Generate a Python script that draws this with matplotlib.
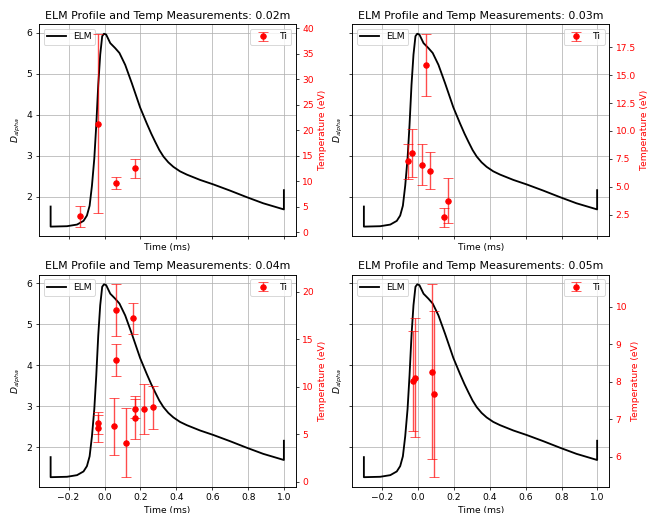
import matplotlib
matplotlib.use("Agg")
import matplotlib.pyplot as plt
from matplotlib.ticker import MultipleLocator

# ELM D-alpha profile (same for every panel)
elm_time = [-0.3, -0.3, -0.209, -0.153, -0.117, -0.098, -0.083, -0.07, -0.057, -0.046,
            -0.035, -0.024, -0.013, -0.003, 0.009, 0.032, 0.059, 0.083, 0.115, 0.152,
            0.198, 0.235, 0.26, 0.282, 0.305, 0.328, 0.355, 0.383, 0.42, 0.458,
            0.532, 0.606, 0.698, 0.791, 0.883, 0.998, 0.998]
elm_dalpha = [1.76, 1.27, 1.28, 1.32, 1.41, 1.54, 1.78, 2.27, 2.93, 3.75,
              4.73, 5.47, 5.92, 5.98, 5.96, 5.75, 5.63, 5.51, 5.22, 4.77,
              4.18, 3.79, 3.54, 3.34, 3.14, 2.98, 2.84, 2.73, 2.62, 2.54,
              2.41, 2.30, 2.15, 1.99, 1.84, 1.69, 2.16]

# Ti measurements per radial position
positions = ["0.02m", "0.03m", "0.04m", "0.05m"]
ti_time = [
    [-0.139, -0.037, 0.065, 0.167],
    [-0.057, -0.035, 0.044, 0.026, 0.067, 0.146, 0.169],
    [-0.037, -0.037, 0.052, 0.065, 0.065, 0.117, 0.156, 0.167, 0.167, 0.217, 0.267],
    [-0.024, -0.013, 0.078, 0.089],
]
ti_value = [
    [3.1, 21.3, 9.7, 12.5],
    [7.27, 8.02, 15.91, 6.97, 6.43, 2.26, 3.76],
    [6.17, 5.64, 5.85, 18.05, 12.84, 4.11, 17.2, 7.7, 6.74, 7.62, 7.84],
    [8.02, 8.11, 8.27, 7.67],
]
ti_err = [
    [2.0, 17.6, 1.2, 1.8],
    [1.6, 2.15, 2.8, 1.85, 1.65, 0.84, 2.0],
    [1.13, 1.42, 3.0, 2.75, 1.67, 3.65, 1.6, 1.0, 2.26, 2.65, 2.27],
    [1.34, 1.58, 2.33, 2.21],
]
ti_tick_step = [5, 2.5, 5, 1]

fig, axes = plt.subplots(2, 2, figsize=(10, 7.773), dpi=66, sharex=True, sharey=True)
fig.subplots_adjust(left=0.059, right=0.923, top=0.953, bottom=0.051,
                    wspace=0.219, hspace=0.181)

for i, axis in enumerate(axes.flat):
    axis.plot(elm_time, elm_dalpha, color="black", linewidth=2, label="ELM")
    axis.set_xlabel("Time (ms)")
    axis.set_ylabel("$D_{alpha}$")
    axis.grid(True)
    axis.legend(loc="upper left")
    axis.set_title("ELM Profile and Temp Measurements: " + positions[i])

    twin = axis.twinx()
    twin.errorbar(ti_time[i], ti_value[i], yerr=ti_err[i], fmt="o", color="red",
                  ecolor=(1, 0, 0, 0.7), capsize=5, label="Ti")
    twin.yaxis.set_major_locator(MultipleLocator(ti_tick_step[i]))
    twin.set_ylabel("Temperature (eV)", color="red")
    twin.tick_params(axis="y", labelcolor="red")
    twin.legend(loc="upper right")

axes[0, 0].set_xticks([-0.2, 0.0, 0.2, 0.4, 0.6, 0.8, 1.0])
axes[1, 0].set_xlim(-0.365, 1.065)

fig.savefig("out.png")
